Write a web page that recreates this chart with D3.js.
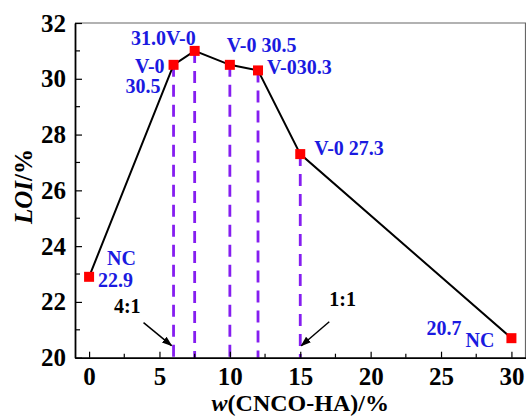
<!DOCTYPE html>
<html>
<head>
<meta charset="utf-8">
<script src="https://cdn.jsdelivr.net/npm/d3@7"></script>
<style>
  html, body { margin: 0; padding: 0; background: #fff; }
  svg { display: block; }
  text { font-family: "Liberation Serif", "Times New Roman", serif; font-weight: bold; }
</style>
</head>
<body>
<svg id="chart" width="526" height="416"></svg>
<script>
// CNCO-HA content (wt%) and limiting oxygen index
const content = [0, 6, 7.5, 10, 12, 15, 30];
const loi = [22.9, 30.5, 31.0, 30.5, 30.3, 27.3, 20.7];
const ulRating = ["NC", "V-0", "V-0", "V-0", "V-0", "V-0", "NC"];
// mass ratios marked on the x axis
const ratioAt = [6, 15];
const ratioText = ["4:1", "1:1"];
const xTicks = [0, 5, 10, 15, 20, 25, 30];
const yTicks = [20, 22, 24, 26, 28, 30, 32];

const svg = d3.select("#chart");
const m = { left: 75, right: 0.5, top: 23, bottom: 58.3 };
const W = 526, H = 416;

const x = d3.scaleLinear().domain([-1, 31]).range([m.left, W - m.right]);
const y = d3.scaleLinear().domain([20, 32]).range([H - m.bottom, m.top]);

const blue = "#1a1ae0";
const violet = "#851ef0";

// frame: top and right edges
svg.append("path")
  .attr("d", `M${x(-1)},${y(32)}H${x(31)}V${y(20)}`)
  .attr("fill", "none").attr("stroke", "#666").attr("stroke-width", 1.2);

// dashed drop lines from each flame-retarded sample to the axis
const drops = content.map((c, i) => ({ c, v: loi[i] })).filter(d => d.c > 0 && d.c < 30);
svg.append("g").selectAll("line").data(drops).join("line")
  .attr("x1", d => x(d.c)).attr("x2", d => x(d.c))
  .attr("y1", d => y(d.v)).attr("y2", y(20))
  .attr("stroke", violet).attr("stroke-width", 2.8)
  .attr("stroke-dasharray", "12,8");

// axes
const xAxis = d3.axisBottom(x).tickValues(xTicks).tickSizeInner(-6).tickSizeOuter(0).tickPadding(10);
const gx = svg.append("g").attr("transform", `translate(0,${y(20)})`).call(xAxis);
const yAxis = d3.axisLeft(y).tickValues(yTicks).tickSizeInner(-7).tickSizeOuter(0).tickPadding(9);
const gy = svg.append("g").attr("transform", `translate(${x(-1)},0)`).call(yAxis);

// minor ticks
const xMinor = d3.range(2.5, 31, 5);
gx.selectAll(".minor").data(xMinor).join("line").attr("class", "minor")
  .attr("x1", d => x(d)).attr("x2", d => x(d)).attr("y1", 0).attr("y2", -4)
  .attr("stroke", "#000").attr("stroke-width", 1.2);
const yMinor = d3.range(21, 32, 2);
gy.selectAll(".minor").data(yMinor).join("line").attr("class", "minor")
  .attr("y1", d => y(d)).attr("y2", d => y(d)).attr("x1", 0).attr("x2", 5)
  .attr("stroke", "#000").attr("stroke-width", 1.2);

[gx, gy].forEach(g => {
  g.select(".domain").attr("stroke", "#000").attr("stroke-width", 1.8);
  g.selectAll(".tick line").attr("stroke", "#000").attr("stroke-width", 1.2);
  g.selectAll("text").attr("font-size", 25).attr("fill", "#000")
    .attr("font-family", "'Liberation Serif', 'Times New Roman', serif").attr("font-weight", "bold");
});

// LOI curve
const line = d3.line().x((d, i) => x(content[i])).y(d => y(d));
svg.append("path").datum(loi).attr("d", line)
  .attr("fill", "none").attr("stroke", "#000").attr("stroke-width", 2);

// markers
const ms = 10;
svg.append("g").selectAll("rect").data(loi).join("rect")
  .attr("x", (d, i) => x(content[i]) - ms / 2).attr("y", d => y(d) - ms / 2)
  .attr("width", ms).attr("height", ms).attr("fill", "#ff0000");

// value / rating labels around each marker
const fmt = d3.format(".1f");
const labelParts = [
  [{ k: "r", dx: 18, dy: -12, a: "start" }, { k: "v", dx: 9, dy: 10, a: "start" }],
  [{ k: "r", dx: -9, dy: 8, a: "end" }, { k: "v", dx: -13, dy: 28, a: "end" }],
  [{ k: "vr", dx: 1, dy: -6, a: "end" }],
  [{ k: "r v", dx: -3, dy: -13, a: "start" }],
  [{ k: "rv", dx: 9, dy: 4, a: "start" }],
  [{ k: "r v", dx: 14, dy: 1, a: "start" }],
  [{ k: "v", dx: -50, dy: -3, a: "end" }, { k: "r", dx: -17, dy: 9, a: "end" }]
];
const textFor = (k, i) => {
  const v = fmt(loi[i]), r = ulRating[i];
  return { r, v, vr: v + r, rv: r + v, "r v": r + " " + v }[k];
};
labelParts.forEach((parts, i) => {
  parts.forEach(p => {
    svg.append("text")
      .attr("x", x(content[i]) + p.dx).attr("y", y(loi[i]) + p.dy)
      .attr("text-anchor", p.a).attr("font-size", 20).attr("fill", blue)
      .text(textFor(p.k, i));
  });
});

// mass ratio annotations with arrows
svg.append("defs").append("marker")
  .attr("id", "arrow").attr("viewBox", "0 0 10 10").attr("refX", 9).attr("refY", 5)
  .attr("markerWidth", 7).attr("markerHeight", 7).attr("orient", "auto")
  .append("path").attr("d", "M0,1.5L10,5L0,8.5Z").attr("fill", "#000");
const ratioLayout = [
  { tx: -2, ty: -12, sx: -28, sy: -23, lx: -31, ly: -33, a: "end" },
  { tx: 1, ty: -12, sx: 28, sy: -24, lx: 28, ly: -40, a: "start" }
];
ratioAt.forEach((c, i) => {
  const L = ratioLayout[i];
  const tipX = x(c) + L.tx, tipY = y(20) + L.ty;
  svg.append("line")
    .attr("x1", tipX + L.sx).attr("y1", tipY + L.sy).attr("x2", tipX).attr("y2", tipY)
    .attr("stroke", "#000").attr("stroke-width", 1.5).attr("marker-end", "url(#arrow)");
  svg.append("text").attr("x", tipX + L.lx).attr("y", tipY + L.ly)
    .attr("text-anchor", L.a).attr("font-size", 20).attr("fill", "#000")
    .text(ratioText[i]);
});

// axis titles
const yt = svg.append("text")
  .attr("transform", "translate(32,186.5) rotate(-90)")
  .attr("text-anchor", "middle").attr("font-size", 25).attr("fill", "#000");
yt.append("tspan").attr("font-style", "italic").text("LOI");
yt.append("tspan").text("/%");

const xt = svg.append("text")
  .attr("x", x(15)).attr("y", 411)
  .attr("text-anchor", "middle").attr("font-size", 24).attr("fill", "#000");
xt.append("tspan").attr("font-style", "italic").text("w");
xt.append("tspan").text("(CNCO-HA)/%");
</script>
</body>
</html>
